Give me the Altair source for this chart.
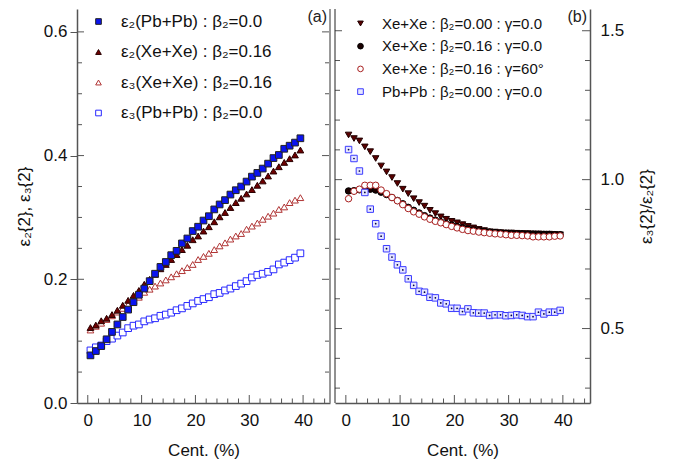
import altair as alt
import pandas as pd

# ---------------- data ----------------
cent = [0.5, 1.5, 2.5, 3.5, 4.5, 5.5, 6.5, 7.5, 8.5, 9.5,
        10.5, 11.5, 12.5, 13.5, 14.5, 15.5, 16.5, 17.5, 18.5, 19.5,
        20.5, 21.5, 22.5, 23.5, 24.5, 25.5, 26.5, 27.5, 28.5, 29.5,
        30.5, 31.5, 32.5, 33.5, 34.5, 35.5, 36.5, 37.5, 38.5, 39.5]

# panel (a)
e2_pbpb = [0.077, 0.084, 0.092, 0.103, 0.115, 0.127, 0.139, 0.151, 0.163, 0.175,
           0.185, 0.197, 0.209, 0.220, 0.228, 0.239, 0.246, 0.258, 0.266, 0.278,
           0.285, 0.295, 0.302, 0.313, 0.321, 0.328, 0.337, 0.344, 0.350, 0.358,
           0.366, 0.372, 0.379, 0.387, 0.396, 0.401, 0.411, 0.416, 0.421, 0.428]
e2_xexe = [0.122, 0.126, 0.133, 0.137, 0.143, 0.150, 0.158, 0.166, 0.174, 0.182,
           0.192, 0.200, 0.208, 0.217, 0.224, 0.232, 0.240, 0.248, 0.255, 0.264,
           0.270, 0.278, 0.285, 0.293, 0.301, 0.308, 0.316, 0.324, 0.331, 0.338,
           0.345, 0.352, 0.359, 0.367, 0.375, 0.382, 0.389, 0.395, 0.401, 0.409]
e3_xexe = [0.118, 0.124, 0.129, 0.135, 0.141, 0.147, 0.153, 0.159, 0.165, 0.171,
           0.179, 0.184, 0.189, 0.194, 0.199, 0.204, 0.209, 0.214, 0.219, 0.224,
           0.232, 0.237, 0.242, 0.248, 0.254, 0.259, 0.265, 0.270, 0.274, 0.281,
           0.286, 0.291, 0.297, 0.302, 0.307, 0.313, 0.317, 0.324, 0.328, 0.332]
e3_pbpb = [0.085, 0.090, 0.093, 0.100, 0.104, 0.109, 0.114, 0.121, 0.125, 0.127,
           0.132, 0.135, 0.137, 0.141, 0.143, 0.146, 0.150, 0.153, 0.157, 0.161,
           0.165, 0.168, 0.171, 0.176, 0.178, 0.182, 0.185, 0.189, 0.193, 0.197,
           0.203, 0.207, 0.209, 0.212, 0.216, 0.224, 0.227, 0.231, 0.235, 0.242]

# panel (b)
r_xe_b0 = [1.150, 1.138, 1.130, 1.110, 1.094, 1.071, 1.046, 1.026, 1.007, 0.987,
           0.968, 0.953, 0.936, 0.923, 0.911, 0.897, 0.886, 0.875, 0.867, 0.860,
           0.855, 0.849, 0.843, 0.838, 0.833, 0.829, 0.825, 0.824, 0.822, 0.821,
           0.821, 0.820, 0.819, 0.819, 0.818, 0.818, 0.817, 0.817, 0.816, 0.815]
r_xe_b16 = [0.962, 0.963, 0.966, 0.968, 0.968, 0.965, 0.958, 0.950, 0.940, 0.930,
            0.919, 0.907, 0.897, 0.888, 0.879, 0.871, 0.864, 0.858, 0.852, 0.847,
            0.842, 0.838, 0.834, 0.831, 0.828, 0.826, 0.824, 0.822, 0.821, 0.820,
            0.819, 0.818, 0.818, 0.817, 0.817, 0.816, 0.816, 0.816, 0.815, 0.815]
r_xe_g60 = [0.936, 0.961, 0.968, 0.981, 0.981, 0.981, 0.965, 0.953, 0.940, 0.929,
            0.916, 0.903, 0.892, 0.884, 0.875, 0.867, 0.860, 0.855, 0.849, 0.843,
            0.838, 0.833, 0.829, 0.827, 0.824, 0.822, 0.820, 0.818, 0.817, 0.815,
            0.813, 0.813, 0.812, 0.811, 0.808, 0.808, 0.808, 0.808, 0.810, 0.811]
r_pbpb = [1.101, 1.071, 1.029, 0.957, 0.901, 0.852, 0.810, 0.768, 0.740, 0.714,
          0.697, 0.667, 0.645, 0.625, 0.622, 0.605, 0.603, 0.586, 0.583, 0.568,
          0.568, 0.557, 0.566, 0.553, 0.552, 0.552, 0.544, 0.546, 0.546, 0.543,
          0.544, 0.546, 0.544, 0.540, 0.540, 0.555, 0.549, 0.555, 0.555, 0.561]

labels_a = ["ε₂(Pb+Pb) : β₂=0.0", "ε₂(Xe+Xe) : β₂=0.16",
            "ε₃(Xe+Xe) : β₂=0.16", "ε₃(Pb+Pb) : β₂=0.0"]
labels_b = ["Xe+Xe : β₂=0.00 : γ=0.0", "Xe+Xe : β₂=0.16 : γ=0.0",
            "Xe+Xe : β₂=0.16 : γ=60°", "Pb+Pb : β₂=0.00 : γ=0.0"]

x_major = [0, 10, 20, 30, 40]
x_minor = [2, 4, 6, 8, 12, 14, 16, 18, 22, 24, 26, 28, 32, 34, 36, 38, 42, 44]
ya_major = [0.2, 0.4, 0.6]
ya_minor = [0.05, 0.1, 0.15, 0.25, 0.3, 0.35, 0.45, 0.5, 0.55]
yb_major = [0.5, 1.0, 1.5]
yb_minor = [0.3, 0.4, 0.6, 0.7, 0.8, 0.9, 1.1, 1.2, 1.3, 1.4]

# ---------------- layout / style ----------------
W1, W2, H = 253, 255, 394
FONT = "Liberation Sans"
TICK = "#555555"

xs = alt.Scale(domain=[-2, 45], nice=False, zero=False)
ys_a = alt.Scale(domain=[0, 0.637], nice=False, zero=False)
ys_b = alt.Scale(domain=[0.25, 1.573], nice=False, zero=False)

x_axis = alt.Axis(values=x_major, ticks=False, labelPadding=9, title="Cent. (%)",
                  titlePadding=14)
y_axis_a = alt.Axis(values=[0.0, 0.2, 0.4, 0.6], format=".1f", tickSize=7,
                    tickColor=TICK, labelPadding=3, title="ε₂{2}, ε₃{2}",
                    titlePadding=10)
y_axis_b = alt.Axis(orient="right", values=[0.5, 1.0, 1.5], format=".1f",
                    ticks=False, labelPadding=10, title="ε₃{2}/ε₂{2}",
                    titleAngle=270, titlePadding=32)


def long(series, labels, order):
    frames = []
    for i in order:
        frames.append(pd.DataFrame({"x": cent, "y": series[i], "s": labels[i]}))
    return pd.concat(frames, ignore_index=True)


df_a = long([e2_pbpb, e2_xexe, e3_xexe, e3_pbpb], labels_a, [3, 2, 1, 0])
df_b = long([r_xe_b0, r_xe_b16, r_xe_g60, r_pbpb], labels_b, [0, 1, 2, 3])
df_dot = pd.DataFrame({"x": cent, "y": r_pbpb})


def legend(lx, ly, rowpad, fsize):
    return alt.Legend(title=None, orient="none", legendX=lx, legendY=ly,
                      labelFont=FONT, labelFontSize=fsize, labelColor="#111",
                      labelLimit=400,
                      symbolSize=32, symbolStrokeWidth=1, rowPadding=rowpad,
                      labelOffset=14, padding=0)


def tick_layers(ys, yax, ymaj, ymin, width):
    one = lambda vals: pd.DataFrame({"v": vals})
    X = lambda: alt.X("v:Q", scale=xs, axis=x_axis)
    Y = lambda: alt.Y("v:Q", scale=ys, axis=yax)
    return [
        alt.Chart(one(x_major)).mark_rule(color=TICK, strokeWidth=1).encode(
            x=X(), y=alt.value(H), y2=alt.value(H - 8)),
        alt.Chart(one(x_minor)).mark_rule(color=TICK, strokeWidth=1).encode(
            x=X(), y=alt.value(H), y2=alt.value(H - 4.5)),
        alt.Chart(one(ymaj)).mark_rule(color=TICK, strokeWidth=1).encode(
            y=Y(), x=alt.value(0), x2=alt.value(7)),
        alt.Chart(one(ymin)).mark_rule(color=TICK, strokeWidth=1).encode(
            y=Y(), x=alt.value(0), x2=alt.value(5)),
        alt.Chart(one(ymaj)).mark_rule(color=TICK, strokeWidth=1).encode(
            y=Y(), x=alt.value(width - 8), x2=alt.value(width)),
        alt.Chart(one(ymin)).mark_rule(color=TICK, strokeWidth=1).encode(
            y=Y(), x=alt.value(width - 5), x2=alt.value(width)),
    ]


# ---------------- panel (a) ----------------
leg_a = legend(13, 4, 12.5, 17)
points_a = alt.Chart(df_a).mark_point(opacity=1, size=45, strokeWidth=1).encode(
    x=alt.X("x:Q", scale=xs, axis=x_axis),
    y=alt.Y("y:Q", scale=ys_a, axis=y_axis_a),
    shape=alt.Shape("s:N", scale=alt.Scale(domain=labels_a,
                    range=["square", "triangle-up", "triangle-up", "square"]), legend=leg_a),
    fill=alt.Fill("s:N", scale=alt.Scale(domain=labels_a,
                  range=["#0a14f0", "#6e0000", "#ffffff", "#ffffff"]), legend=leg_a),
    stroke=alt.Stroke("s:N", scale=alt.Scale(domain=labels_a,
                      range=["#222222", "#2a0000", "#b03434", "#2828ff"]), legend=leg_a),
)

frame_a = alt.Chart(pd.DataFrame({"a": [0]})).mark_rule(color="#999999", strokeWidth=2).encode(
    x=alt.value(W1), y=alt.value(0), y2=alt.value(H))
tag_a = alt.Chart(pd.DataFrame({"a": [0]})).mark_text(
    align="right", baseline="top", font=FONT, fontSize=16, color="#222").encode(
    x=alt.value(W1 - 3), y=alt.value(0), text=alt.value("(a)"))

panel_a = alt.layer(*tick_layers(ys_a, y_axis_a, ya_major, ya_minor, W1), points_a,
                    frame_a, tag_a).properties(width=W1, height=H)

# ---------------- panel (b) ----------------
leg_b = legend(18, 7, 6.7, 15)
points_b = alt.Chart(df_b).mark_point(opacity=1, size=42, strokeWidth=1).encode(
    x=alt.X("x:Q", scale=xs, axis=x_axis),
    y=alt.Y("y:Q", scale=ys_b, axis=y_axis_b),
    shape=alt.Shape("s:N", scale=alt.Scale(domain=labels_b,
                    range=["triangle-down", "circle", "circle", "square"]), legend=leg_b),
    fill=alt.Fill("s:N", scale=alt.Scale(domain=labels_b,
                  range=["#5a0000", "#1a0000", "#ffffff", "#e6e6ff"]), legend=leg_b),
    stroke=alt.Stroke("s:N", scale=alt.Scale(domain=labels_b,
                      range=["#200000", "#000000", "#a81e1e", "#3c3cff"]), legend=leg_b),
)
dots_b = alt.Chart(df_dot).mark_circle(size=3, color="#000044", opacity=1).encode(
    x=alt.X("x:Q", scale=xs, axis=x_axis), y=alt.Y("y:Q", scale=ys_b, axis=y_axis_b))

frame_b = alt.Chart(pd.DataFrame({"a": [0]})).mark_rule(color="#222222", strokeWidth=1).encode(
    x=alt.value(0), y=alt.value(0), y2=alt.value(H))
tag_b = alt.Chart(pd.DataFrame({"a": [0]})).mark_text(
    align="right", baseline="top", font=FONT, fontSize=16, color="#222").encode(
    x=alt.value(W2 - 3), y=alt.value(0), text=alt.value("(b)"))

panel_b = alt.layer(*tick_layers(ys_b, y_axis_b, yb_major, yb_minor, W2), points_b, dots_b,
                    frame_b, tag_b).properties(width=W2, height=H)

chart = alt.hconcat(panel_a, panel_b, spacing=3).resolve_scale(
    x="independent", y="independent", shape="independent",
    fill="independent", stroke="independent"
).properties(
    padding={"left": 7, "top": 0, "right": 5, "bottom": 5}
).configure_view(stroke=None).configure_axis(
    grid=False, labelFont=FONT, labelFontSize=17, labelColor="#111",
    titleFont=FONT, titleFontSize=17, titleFontWeight="normal", titleColor="#111",
    domainColor="#555555", domainWidth=1.5
)

chart.save("out.html", embed_options={"renderer": "svg", "actions": False})
